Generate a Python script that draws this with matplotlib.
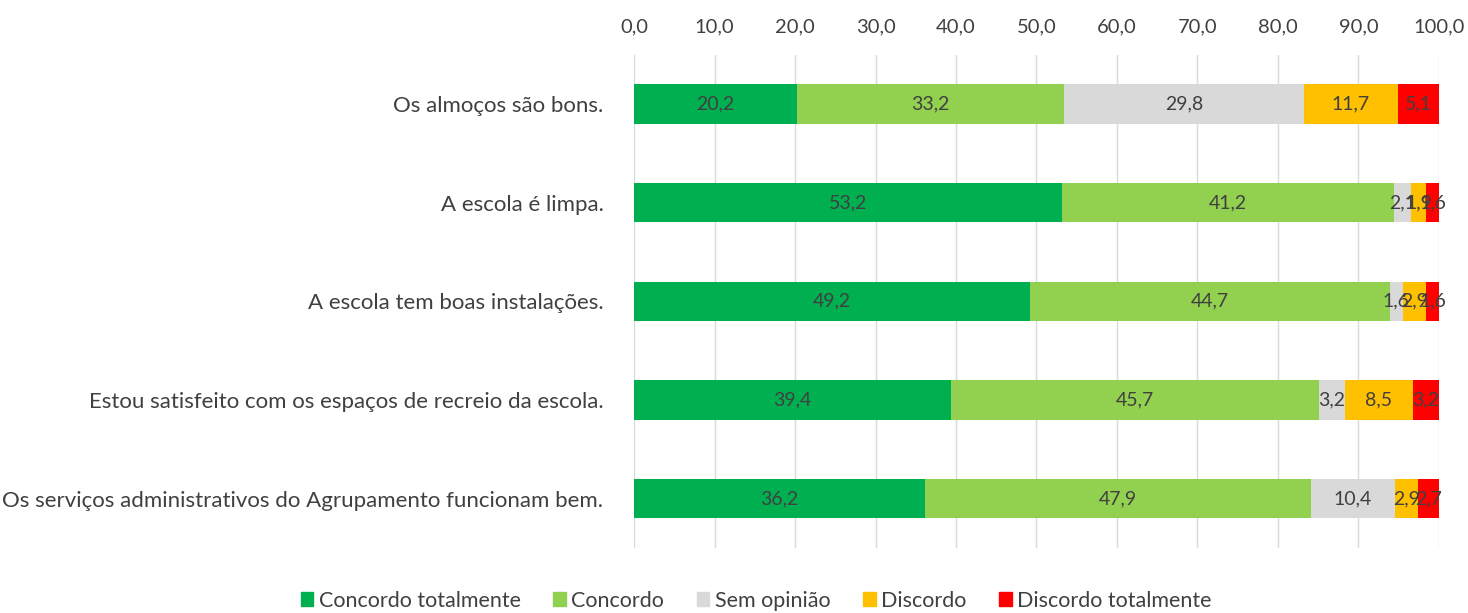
import numpy as np
import matplotlib.pyplot as plt
from matplotlib.patches import Patch

plt.rcParams['font.family'] = ['Lato', 'DejaVu Sans']

categories = [
    "Os almoços são bons.",
    "A escola é limpa.",
    "A escola tem boas instalações.",
    "Estou satisfeito com os espaços de recreio da escola.",
    "Os serviços administrativos do Agrupamento funcionam bem.",
]
series_names = ["Concordo totalmente", "Concordo", "Sem opinião", "Discordo", "Discordo totalmente"]
concordo_totalmente = [20.2, 53.2, 49.2, 39.4, 36.2]
concordo = [33.2, 41.2, 44.7, 45.7, 47.9]
sem_opiniao = [29.8, 2.1, 1.6, 3.2, 10.4]
discordo = [11.7, 1.9, 2.9, 8.5, 2.9]
discordo_totalmente = [5.1, 1.6, 1.6, 3.2, 2.7]
colors = ["#00B050", "#92D050", "#D9D9D9", "#FFC000", "#FF0000"]

data = [concordo_totalmente, concordo, sem_opiniao, discordo, discordo_totalmente]
txt = "#404040"

fig = plt.figure(figsize=(14.68, 6.13), dpi=100)
ax = fig.add_axes([0.4319, 0.106, 0.5483, 0.805])

y = np.arange(len(categories))
left = np.zeros(len(categories))
for vals, c in zip(data, colors):
    vals = np.array(vals)
    ax.barh(y, vals, left=left, height=0.4, color=c, zorder=3)
    for yi, l, v in zip(y, left, vals):
        ax.text(l + v / 2, yi, f"{v:.1f}".replace(".", ","), ha="center", va="center",
                fontsize=14, color=txt, zorder=4)
    left += vals

ax.set_xlim(0, 100)
ax.set_ylim(len(categories) - 0.5, -0.5)
ax.set_xticks(np.arange(0, 101, 10))
ax.set_xticklabels([f"{t:.1f}".replace(".", ",") for t in np.arange(0, 101, 10)], fontsize=14.5, color=txt)
ax.xaxis.tick_top()
ax.set_yticks(y)
ax.set_yticklabels(categories, fontsize=16, color=txt)
ax.tick_params(axis="both", length=0)
ax.tick_params(axis="x", pad=14)
ax.tick_params(axis="y", pad=22)
ax.grid(axis="x", color="#D9D9D9", linewidth=1, zorder=0)
for s in ax.spines.values():
    s.set_visible(False)

handles = [Patch(color=c) for c in colors]
fig.legend(handles, series_names, loc="lower center", bbox_to_anchor=(0.515, -0.028), ncol=5,
           frameon=False, fontsize=15.5, handlelength=0.6, handleheight=0.6, handletextpad=0.25,
           columnspacing=1.5, labelcolor=txt)

fig.savefig("out.png", dpi=100)
